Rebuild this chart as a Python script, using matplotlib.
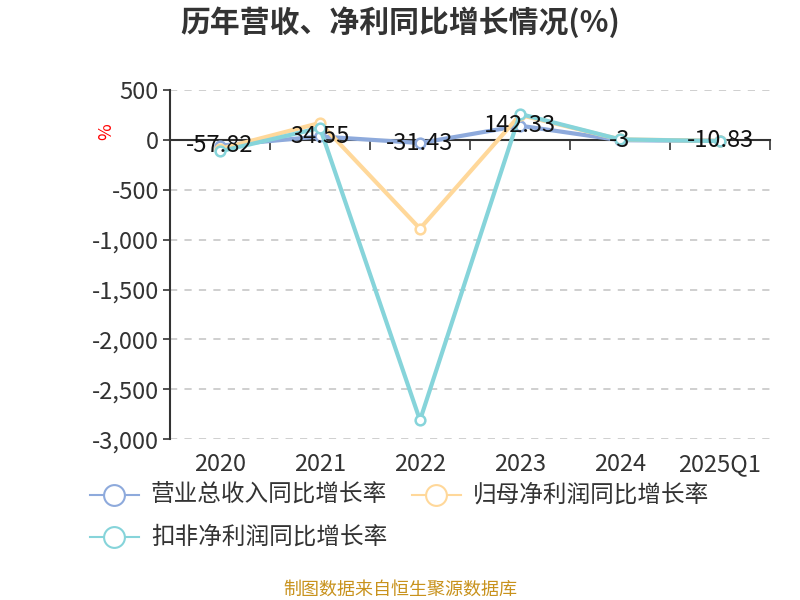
import matplotlib
matplotlib.use('Agg')
import matplotlib.pyplot as plt
from matplotlib.lines import Line2D

plt.rcParams['font.family'] = ['Noto Sans CJK SC', 'DejaVu Sans']

# 数据
years = ['2020', '2021', '2022', '2023', '2024', '2025Q1']
revenue = [-57.82, 34.55, -31.43, 142.33, -3, -10.83]
net_profit = [-90, 170, -890, 250, 5, -10]
deducted = [-115, 120, -2810, 260, 5, -12]
names = ['营业总收入同比增长率', '归母净利润同比增长率', '扣非净利润同比增长率']
colors = ['#8eaadc', '#ffd89a', '#86d4da']

fig = plt.figure(figsize=(8, 6), dpi=100)
ax = fig.add_axes([0.2125, 0.268, 0.75, 0.582])

x = list(range(len(years)))
for vals, c in zip([revenue, net_profit, deducted], colors):
    ax.plot(x, vals, color=c, lw=3, marker='o', ms=7, mfc='white',
            mec=c, mew=1.8, zorder=3)

# 数据标签（营业总收入）
for i, v in enumerate(revenue):
    ax.text(i, v, f'{v:g}', ha='center', va='center', fontsize=17,
            color='#111111', zorder=5)

ax.set_xlim(-0.5, len(years) - 0.5)
ax.set_ylim(-3000, 500)
ticks = list(range(-3000, 501, 500))
ax.set_yticks(ticks)
ax.set_yticklabels([f'{t:,}' for t in ticks])
ax.tick_params(axis='y', labelsize=17, colors='#333333', length=5,
               width=1.2, labelcolor='#333333', pad=3)
for t in ticks:
    if t != 0:
        ax.axhline(t, color='#cccccc', lw=1.3, ls=(0, (4, 4)), zorder=1)

for s in ['top', 'right']:
    ax.spines[s].set_visible(False)
ax.spines['bottom'].set_position(('data', 0))
ax.spines['bottom'].set_color('#333333')
ax.spines['bottom'].set_linewidth(1.5)
ax.spines['left'].set_color('#333333')
ax.spines['left'].set_linewidth(1.5)
ax.set_xticks([i - 0.5 for i in range(len(years) + 1)])
ax.set_xticklabels([])
ax.tick_params(axis='x', direction='out', length=7, width=1.2, colors='#333333')
for i, y in enumerate(years):
    ax.text(i, -3255, y, ha='center', va='center', fontsize=17,
            color='#333333', clip_on=False)

ax.text(-1.14, 80, '%', color='red', fontsize=13, rotation=90,
        ha='center', va='center')

fig.text(0.5, 0.963, '历年营收、净利同比增长情况(%)', ha='center', va='center',
         fontsize=21.5, fontweight='bold', color='#333333')

# 图例
def legend_item(xp, yp, c, label):
    fig.add_artist(Line2D([xp, xp + 0.061], [yp, yp], color=c, lw=1.5,
                          transform=fig.transFigure))
    fig.add_artist(Line2D([xp + 0.0305], [yp], color=c, marker='o', ms=15,
                          mfc='white', mec=c, mew=1.5, transform=fig.transFigure))
    fig.text(xp + 0.076, yp, label, ha='left', va='center', fontsize=17,
             color='#333333')

legend_item(0.1125, 0.175, colors[0], names[0])
legend_item(0.515, 0.175, colors[1], names[1])
legend_item(0.1125, 0.105, colors[2], names[2])

fig.text(0.5, 0.018, '制图数据来自恒生聚源数据库', ha='center', va='center',
         fontsize=13, color='#c8921c')

fig.savefig('out.png', dpi=100)
